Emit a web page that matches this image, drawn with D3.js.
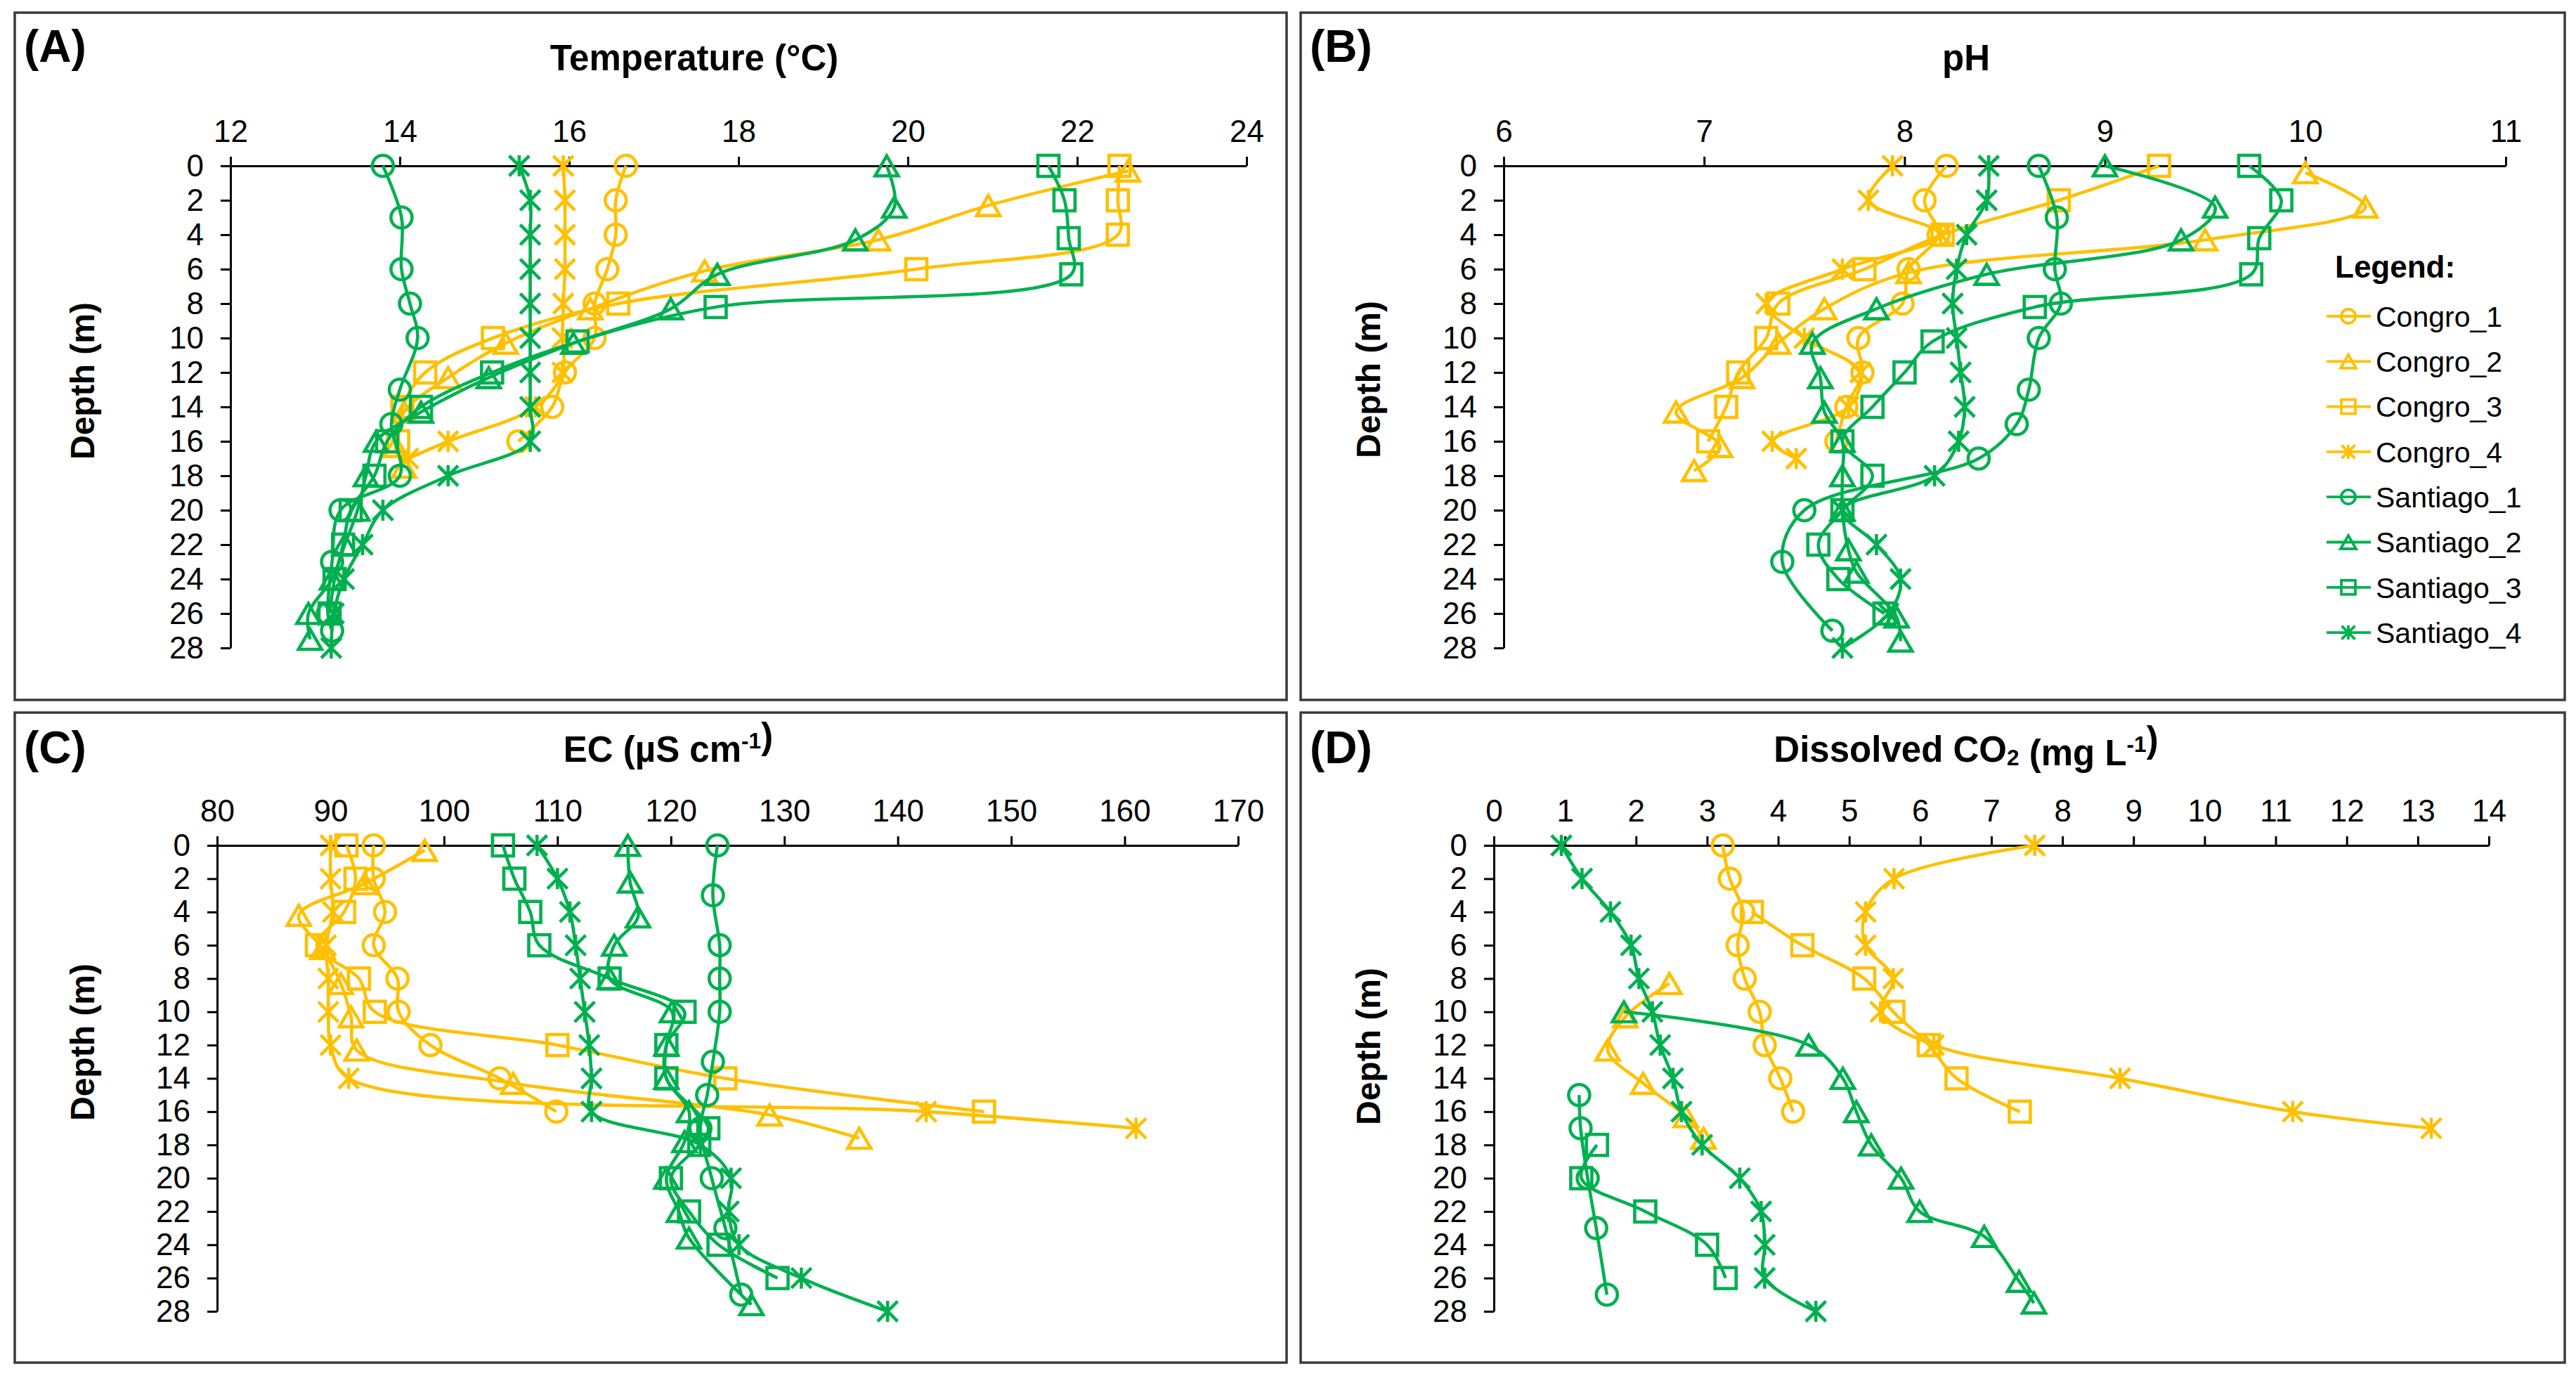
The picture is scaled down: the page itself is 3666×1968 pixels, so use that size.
<!DOCTYPE html>
<html><head><meta charset="utf-8">
<script src="https://cdn.jsdelivr.net/npm/d3@7"></script>
<style>
body{margin:0;background:#fff}
svg{display:block}
text{font-family:"Liberation Sans",Arial,Helvetica,sans-serif;fill:#000}
</style>
</head><body>
<svg id="chart" width="3666" height="1968"></svg>
<script>
// ---------- DATA ([depth m, value]) ----------
const seriesNames = ["Congro_1","Congro_2","Congro_3","Congro_4","Santiago_1","Santiago_2","Santiago_3","Santiago_4"];
const depthTicks = [0,2,4,6,8,10,12,14,16,18,20,22,24,26,28];
const tempTicks = [12,14,16,18,20,22,24];
const phTicks = [6,7,8,9,10,11];
const ecTicks = [80,90,100,110,120,130,140,150,160,170];
const co2Ticks = [0,1,2,3,4,5,6,7,8,9,10,11,12,13,14];

// (A) Temperature (°C)
const tempC1 = [[0,16.67],[2,16.55],[4,16.55],[6,16.45],[8,16.3],[10,16.3],[12,15.95],[14,15.8],[16,15.4]];
const tempC2 = [[0.3,22.6],[2.3,20.95],[4.3,19.65],[6.1,17.6],[8.3,16.25],[10.3,15.25],[12.3,14.57],[14.3,14.05],[16.3,13.95],[17.5,14.05]];
const tempC3 = [[0,22.5],[2,22.48],[4,22.48],[6,20.1],[8,16.58],[10,15.1],[12,14.3],[14,14.03],[16,13.98]];
const tempC4 = [[0,15.93],[2,15.95],[4,15.95],[6,15.95],[8,15.93],[10,15.92],[12,15.92],[14,15.6],[16,14.57],[17,14.1]];
const tempS1 = [[0,13.8],[3,14.02],[6,14.02],[8,14.12],[10,14.21],[13,14.0],[15,13.9],[18,14.0],[20,13.3],[23,13.2],[26,13.15],[27,13.2]];
const tempS2 = [[0,19.75],[2.4,19.84],[4.3,19.38],[6.3,17.75],[8.3,17.2],[10.3,16.05],[12.3,15.05],[14.3,14.25],[16,13.72],[18,13.6],[20,13.5],[22,13.35],[24,13.2],[26,12.92],[27.5,12.94]];
const tempS3 = [[0,21.66],[2,21.85],[4.2,21.9],[6.3,21.93],[8.2,17.73],[10.2,16.1],[12,15.09],[14,14.25],[16,13.85],[18,13.7],[20,13.42],[22,13.33],[24,13.23],[26,13.17]];
const tempS4 = [[0,15.41],[2,15.54],[4,15.54],[6,15.54],[8,15.54],[10,15.54],[12,15.54],[14,15.54],[16,15.54],[18,14.57],[20,13.8],[22,13.56],[24,13.34],[26,13.22],[28,13.19]];

// (B) pH
const phC1 = [[0,8.21],[2,8.1],[4,8.17],[6,8.02],[8,7.99],[10,7.77],[12,7.79],[14,7.71],[16,7.66]];
const phC2 = [[0.4,10.0],[2.4,10.3],[4.3,9.5],[6.2,8.02],[8.3,7.6],[10.3,7.37],[12.3,7.19],[14.3,6.86],[16.3,7.08],[17.7,6.95]];
const phC3 = [[0,9.27],[2,8.77],[4,8.19],[6,7.8],[8,7.37],[10,7.31],[12,7.17],[14,7.11],[16,7.02]];
const phC4 = [[0,7.94],[2,7.82],[4,8.18],[6,7.69],[8,7.31],[10,7.5],[12,7.78],[14,7.72],[16,7.34],[17,7.46]];
const phS1 = [[0,8.67],[3,8.76],[6,8.75],[8,8.78],[10,8.67],[13,8.62],[15,8.56],[17,8.37],[20,7.5],[23,7.39],[27,7.64]];
const phS2 = [[0,9.0],[2.4,9.55],[4.3,9.38],[6.3,8.41],[8.3,7.86],[10.3,7.54],[12.3,7.58],[14.3,7.6],[16,7.69],[18,7.69],[20,7.69],[22.3,7.72],[23.6,7.76],[26.2,7.96],[27.6,7.98]];
const phS3 = [[0,9.72],[2,9.88],[4.2,9.77],[6.3,9.73],[8.2,8.65],[10.2,8.14],[12,8.0],[14,7.84],[16,7.69],[18,7.84],[20,7.69],[22,7.57],[24,7.67],[26,7.9]];
const phS4 = [[0,8.42],[2,8.41],[4,8.31],[6,8.26],[8,8.24],[10,8.26],[12,8.28],[14,8.3],[16,8.27],[18,8.15],[20,7.69],[22,7.86],[24,7.98],[26,7.92],[28,7.69]];

// (C) EC (µS cm-1)
const ecC1 = [[0,93.8],[2,93.8],[4,94.8],[6,93.8],[8,95.9],[10,96.0],[12,98.8],[14,104.9],[16,109.9]];
const ecC2 = [[0.3,98.3],[2.3,93.0],[4.2,87.2],[6.2,89.3],[8.3,90.9],[10.3,91.8],[12.3,92.3],[14.3,106.1],[16.2,128.7],[17.6,136.6]];
const ecC3 = [[0,91.4],[2,92.2],[4,91.2],[6,88.8],[8,92.5],[10,93.9],[12,110.0],[14,124.8],[16,147.6]];
const ecC4 = [[0,90.0],[2,90.0],[4,90.2],[6,89.6],[8,89.8],[10,89.8],[12,90.0],[14,91.6],[16,142.5],[17,161.0]];
const ecS1 = [[0,124.1],[3,123.7],[6,124.3],[8,124.3],[10,124.3],[13,123.7],[15,123.2],[17,122.6],[20,123.6],[23,124.8],[27,126.2]];
const ecS2 = [[0,116.2],[2.2,116.4],[4.3,117.1],[6,115.0],[8,114.6],[10,120.1],[12,119.6],[14,119.6],[16,121.6],[17.8,121.2],[20,119.6],[22,120.7],[23.6,121.6],[27.6,127.1]];
const ecS3 = [[0,105.2],[2,106.2],[4,107.6],[6,108.4],[8,114.6],[10,121.2],[12,119.6],[14,119.6],[17,123.3],[18,122.5],[20,120.0],[22,121.6],[24,124.2],[26,129.4]];
const ecS4 = [[0,108.2],[2,110.0],[4,111.1],[6,111.6],[8,112.0],[10,112.4],[12,112.8],[14,113.0],[16,113.0],[18,122.6],[20,125.3],[22,125.1],[24,126.0],[26,131.5],[28,139.1]];

// (D) Dissolved CO2 (mg L-1)
const co2C1 = [[0,3.22],[2,3.32],[4,3.51],[6,3.43],[8,3.53],[10,3.74],[12,3.81],[14,4.03],[16,4.21]];
const co2C2 = [[8.3,2.47],[10.3,1.85],[12.3,1.6],[14.3,2.1],[16.3,2.7],[17.6,2.95]];
const co2C3 = [[4,3.63],[6,4.34],[8,5.21],[10,5.62],[12,6.12],[14,6.51],[16,7.4]];
const co2C4 = [[0,7.61],[2,5.63],[4,5.23],[6,5.23],[8,5.62],[10,5.44],[12,6.19],[14,8.81],[16,11.24],[17,13.19]];
const co2S1 = [[15,1.2],[17,1.22],[20,1.32],[23,1.44],[27,1.59]];
const co2S2 = [[10,1.83],[12,4.43],[14,4.91],[16,5.1],[18,5.31],[20,5.73],[22,5.99],[23.5,6.9],[26.2,7.39],[27.5,7.6]];
const co2S3 = [[18,1.45],[20,1.23],[22,2.13],[24,3.0],[26,3.26]];
const co2S4 = [[0,0.95],[2,1.24],[4,1.64],[6,1.93],[8,2.04],[10,2.23],[12,2.34],[14,2.52],[16,2.64],[18,2.93],[20,3.46],[22,3.76],[24,3.81],[26,3.81],[28,4.53]];

// ---------- STYLE / LAYOUT ----------
const YELLOW = "#FFC000", GREEN = "#00B050";
const colorOf = i => i < 4 ? YELLOW : GREEN;
const shapeOf = i => ["circle","triangle","square","star"][i % 4];

const panels = [
  {label:"(A)", data:[tempC1,tempC2,tempC3,tempC4,tempS1,tempS2,tempS3,tempS4], ticks:tempTicks,
   box:[21,18,1831,996], xr:[328,1774], yr:[236,922], title:[{t:"Temperature (°C)"}], tx:988, ty:100, ly:88, dyx:117, dyy:542},
  {label:"(B)", data:[phC1,phC2,phC3,phC4,phS1,phS2,phS3,phS4], ticks:phTicks,
   box:[1851,18,3650,996], xr:[2140,3566], yr:[236,922], title:[{t:"pH"}], tx:2798, ty:100, ly:88, dyx:1947, dyy:540, legend:true},
  {label:"(C)", data:[ecC1,ecC2,ecC3,ecC4,ecS1,ecS2,ecS3,ecS4], ticks:ecTicks,
   box:[21,1014,1831,1939], xr:[309,1762], yr:[1203,1866], title:[{t:"EC (µS cm"},{t:"-1",sup:true},{t:")"}], tx:951, ty:1084, ly:1086, dyx:117, dyy:1483},
  {label:"(D)", data:[co2C1,co2C2,co2C3,co2C4,co2S1,co2S2,co2S3,co2S4], ticks:co2Ticks,
   box:[1851,1014,3650,1939], xr:[2126,3542], yr:[1203,1866], title:[{t:"Dissolved CO"},{t:"2",sub:true},{t:" (mg L"},{t:"-1",sup:true},{t:")"}], tx:2798, ty:1084, ly:1086, dyx:1947, dyy:1489}
];

const svg = d3.select("#chart");
svg.append("rect").attr("width",3666).attr("height",1968).attr("fill","#fff");

function drawMarker(g, shape, cx, cy, r, color, sw){
  if(shape==="circle"){
    g.append("circle").attr("cx",cx).attr("cy",cy).attr("r",r).attr("fill","none").attr("stroke",color).attr("stroke-width",sw);
  } else if(shape==="square"){
    g.append("rect").attr("x",cx-r).attr("y",cy-r).attr("width",2*r).attr("height",2*r).attr("fill","none").attr("stroke",color).attr("stroke-width",sw);
  } else if(shape==="triangle"){
    const h = r*1.9, w = r*2.2;
    g.append("path").attr("d",`M${cx},${cy-h/2}L${cx+w/2},${cy+h/2}L${cx-w/2},${cy+h/2}Z`).attr("fill","none").attr("stroke",color).attr("stroke-width",sw).attr("stroke-linejoin","miter");
  } else {
    const a = r*0.95;
    g.append("path").attr("d",`M${cx},${cy-r}V${cy+r}M${cx-a},${cy-a}L${cx+a},${cy+a}M${cx+a},${cy-a}L${cx-a},${cy+a}`).attr("fill","none").attr("stroke",color).attr("stroke-width",sw);
  }
}

function addRich(sel, parts, size){
  parts.forEach(p=>{
    const ts = sel.append("tspan").text(p.t);
    if(p.sup){ ts.attr("font-size",size*0.62).attr("dy",-size*0.38); sel.append("tspan").attr("dy",size*0.38).text(""); }
    if(p.sub){ ts.attr("font-size",size*0.62).attr("dy",size*0.1); sel.append("tspan").attr("dy",-size*0.1).text(""); }
  });
}

panels.forEach(p=>{
  const g = svg.append("g");
  g.append("rect").attr("x",p.box[0]).attr("y",p.box[1]).attr("width",p.box[2]-p.box[0]).attr("height",p.box[3]-p.box[1])
    .attr("fill","none").attr("stroke","#3a3a3a").attr("stroke-width",3.5);

  const x = d3.scaleLinear().domain(d3.extent(p.ticks)).range(p.xr);
  const y = d3.scaleLinear().domain([0,28]).range(p.yr);

  const xa = g.append("g").attr("transform",`translate(0,${p.yr[0]})`)
    .call(d3.axisTop(x).tickValues(p.ticks).tickSize(13).tickPadding(21).tickSizeOuter(0).tickFormat(d3.format("d")));
  const ya = g.append("g").attr("transform",`translate(${p.xr[0]},0)`)
    .call(d3.axisLeft(y).tickValues(depthTicks).tickSize(14).tickPadding(24).tickSizeOuter(0).tickFormat(d3.format("d")));
  [xa,ya].forEach(a=>{
    a.select(".domain").attr("stroke","#000").attr("stroke-width",3);
    a.selectAll(".tick line").attr("stroke","#000").attr("stroke-width",3);
    a.selectAll(".tick text").attr("font-size",44).attr("fill","#000")
      .style("font-family",'"Liberation Sans",Arial,sans-serif');
  });

  // title
  const tt = g.append("text").attr("x",p.tx).attr("y",p.ty).attr("text-anchor","middle")
    .attr("font-size",51).attr("font-weight","bold");
  addRich(tt, p.title, 51);

  // panel label
  g.append("text").attr("x",p.box[0]+13).attr("y",p.ly).attr("font-size",64).attr("font-weight","bold").text(p.label);

  // y label
  g.append("text").attr("transform",`translate(${p.dyx},${p.dyy}) rotate(-90)`).attr("text-anchor","middle")
    .attr("dy","0.35em").attr("font-size",48).attr("font-weight","bold").text("Depth (m)");

  // series
  const line = d3.line().x(d=>x(d[1])).y(d=>y(d[0])).curve(d3.curveCatmullRom.alpha(0.5));
  p.data.forEach((s,i)=>{
    const sg = g.append("g");
    sg.append("path").datum(s).attr("d",line).attr("fill","none").attr("stroke",colorOf(i)).attr("stroke-width",4.6);
    s.forEach(d=>drawMarker(sg, shapeOf(i), x(d[1]), y(d[0]), 15, colorOf(i), 4.6));
  });

  if(p.legend){
    const lg = g.append("g");
    lg.append("text").attr("x",3323).attr("y",395).attr("font-size",44).attr("font-weight","bold").text("Legend:");
    seriesNames.forEach((n,i)=>{
      const cy = 450 + i*64.3;
      lg.append("line").attr("x1",3311).attr("x2",3374).attr("y1",cy).attr("y2",cy).attr("stroke",colorOf(i)).attr("stroke-width",3.8);
      drawMarker(lg, shapeOf(i), 3342, cy, 10, colorOf(i), 3.8);
      lg.append("text").attr("x",3381).attr("y",cy).attr("dy","0.36em").attr("font-size",41).text(n);
    });
  }
});
</script>
</body></html>
